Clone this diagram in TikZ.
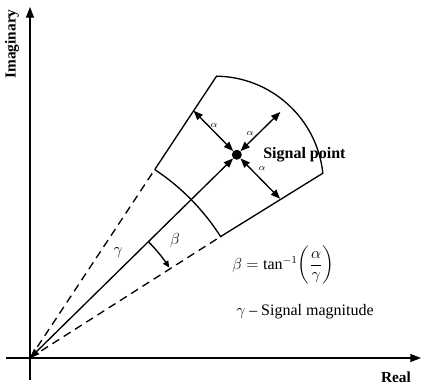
\documentclass[tikz,border=0pt]{standalone}
\usepackage{amsmath}
\usepackage{fontspec}
\setmainfont{Liberation Serif}
\usetikzlibrary{arrows.meta, calc}
\tikzset{
	axisline/.style={
			line width=1pt,
			-{Triangle[length=8pt,width=6pt]}
		},
	vecline/.style={
			line width=1pt,
			{Triangle[length=7pt,width=5.5pt]}-{Triangle[length=7pt,width=5.5pt]}
		},
	edgeline/.style={
			line width=1pt
		},
	guideline/.style={
			line width=1pt,
			dash pattern=on 6pt off 4pt
		},
	anglearrow/.style={
			line width=1pt,
			-{Triangle[length=5pt,width=4.5pt]}
		},
	boldlabel/.style={
			font=\fontsize{11.5}{13}\selectfont\bfseries,
			inner sep=0pt
		},
	smalllabel/.style={
			font=\scriptsize,
			inner sep=0pt
		},
	textlabel/.style={
			font=\large,
			inner sep=0pt
		},
	dotnode/.style={
			circle,
			fill=black,
			minimum size=7.5pt,
			inner sep=0pt
		}
}

\begin{document}
\begin{tikzpicture}[x=0.75pt, y=0.75pt]
\useasboundingbox (-30,-29) rectangle (392,358);
% axes
\coordinate (xl) at (-24,0);
\coordinate (xr) at (391,0);
\coordinate (yb) at (0,-22);
\coordinate (yt) at (0,351);
\draw[axisline] (xl) -- (xr);
\draw[axisline] (yb) -- (yt);
\node[boldlabel] (real) at (366,-19) {Real};
\node[boldlabel, rotate=90] (imag) at (-18,314) {Imaginary};

% sector round the signal point
\coordinate (O) at (0,0);
\coordinate (c1) at (56.5:226);
\coordinate (c2) at (56.5:338);
\coordinate (c4) at (32.5:226);
\draw[guideline] (O) -- (c1);
\draw[guideline] (O) -- (c4);
\draw[edgeline] (c1) -- (c2) arc[start angle=89.2, end angle=6, radius=108.4]
  coordinate (c3) -- (c4) arc[start angle=32.5, end angle=56.5, radius=226];

% signal point and its arrows
\node[dotnode] (S) at (44.5:290) {};
\coordinate (a1) at ($(S)+(134.5:61.7)$);
\coordinate (a2) at ($(S)+(44.5:61)$);
\coordinate (a3) at ($(S)+(-45.5:61.7)$);
\draw[vecline] (O) -- (S);
\draw[vecline] (S) -- (a1);
\draw[vecline] (S) -- (a2);
\draw[vecline] (S) -- (a3);
\node[smalllabel] (al1) at (184,233) {$\alpha$};
\node[smalllabel] (al2) at (220,225) {$\alpha$};
\node[smalllabel] (al3) at (232,190) {$\alpha$};
\node[boldlabel, font=\large\bfseries, anchor=west] (sp) at (233,203) {Signal point};

% angle beta
\coordinate (b0) at (44.5:166);
\draw[anglearrow] (b0) arc[start angle=44.5, end angle=33, radius=166];
\node[textlabel] (beta) at (145,118) {$\beta$};
\node[textlabel] (gamma) at (88,105) {$\gamma$};

% formula and legend
\node[textlabel, anchor=west] (eq) at (202,93)
  {$\beta = \tan^{-1}\!\left(\dfrac{\alpha}{\gamma}\right)$};
\node[textlabel, anchor=west] (leg) at (206,46)
  {$\gamma$ -- Signal magnitude};
\end{tikzpicture}
\end{document}
